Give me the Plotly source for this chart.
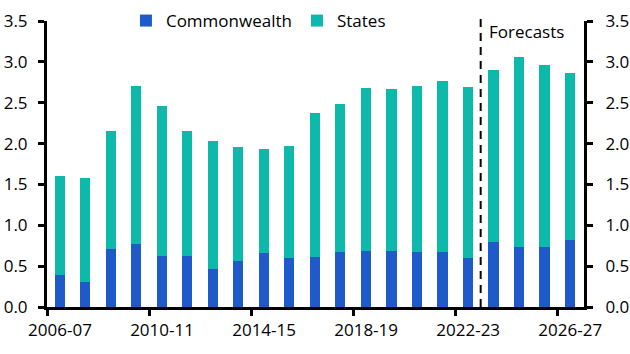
import plotly.graph_objects as go

years = ["2006-07", "2007-08", "2008-09", "2009-10", "2010-11", "2011-12", "2012-13",
         "2013-14", "2014-15", "2015-16", "2016-17", "2017-18", "2018-19", "2019-20",
         "2020-21", "2021-22", "2022-23", "2023-24", "2024-25", "2025-26", "2026-27"]
commonwealth = [0.39, 0.30, 0.71, 0.77, 0.63, 0.62, 0.47, 0.56, 0.66, 0.60, 0.61, 0.67,
                0.69, 0.68, 0.67, 0.67, 0.60, 0.80, 0.73, 0.74, 0.82]
total = [1.60, 1.58, 2.15, 2.71, 2.46, 2.15, 2.03, 1.96, 1.93, 1.97, 2.38, 2.49,
         2.68, 2.67, 2.70, 2.76, 2.69, 2.90, 3.06, 2.96, 2.86]
states = [round(t - c, 3) for t, c in zip(total, commonwealth)]

tick_labels = ["2006-07", "2010-11", "2014-15", "2018-19", "2022-23", "2026-27"]
forecast_start = "2023-24"

idx = list(range(len(years)))
tickvals = [years.index(t) - 0.5 for t in tick_labels]
fc = years.index(forecast_start) - 0.5

FONT = "Open Sans"
BLUE = "#1f5acb"
TEAL = "#0cb9ab"

fig = go.Figure()
fig.add_trace(go.Bar(x=idx, y=commonwealth, name="Commonwealth", marker_color=BLUE,
                     marker_line_width=0))
fig.add_trace(go.Bar(x=idx, y=states, name="States", marker_color=TEAL,
                     marker_line_width=0))
# invisible companion trace so the right-hand axis is drawn
fig.add_trace(go.Scatter(x=idx, y=total, yaxis="y2", mode="lines",
                         line=dict(width=0, color="rgba(0,0,0,0)"),
                         showlegend=False, hoverinfo="skip"))

axis_common = dict(showgrid=False, zeroline=False, showline=True, linecolor="black",
                   linewidth=3, ticks="outside", ticklen=6, tickwidth=2.5,
                   tickcolor="black", automargin=False,
                   tickfont=dict(family=FONT, size=17, color="black"))

fig.update_layout(
    barmode="stack", bargap=0.6,
    width=630, height=354,
    margin=dict(l=47, r=46, t=21, b=47, autoexpand=False),
    plot_bgcolor="white", paper_bgcolor="white",
    font=dict(family=FONT, size=17, color="black"),
    showlegend=True,
    legend=dict(orientation="h", x=0.147, y=1.0, xanchor="left", yanchor="middle",
                bgcolor="rgba(0,0,0,0)", font=dict(family=FONT, size=17),
                traceorder="normal"),
    xaxis=dict(range=[-0.5, 20.55], tickvals=tickvals, ticktext=tick_labels,
               ticklabelshift=13, **axis_common),
    yaxis=dict(range=[0, 3.5], dtick=0.5, tickformat=".1f", ticklabelstandoff=7,
               **axis_common),
    yaxis2=dict(range=[0, 3.5], dtick=0.5, tickformat=".1f", overlaying="y",
                side="right", ticklabelstandoff=9, **axis_common),
)

fig.add_shape(type="line", xref="x", yref="paper", x0=fc, x1=fc, y0=0, y1=1.01,
              line=dict(color="black", width=2, dash="8px,6px"))
fig.add_annotation(xref="x", yref="paper", x=fc, y=0.965, xanchor="left",
                   yanchor="middle", xshift=6, showarrow=False, text="Forecasts",
                   font=dict(family=FONT, size=17, color="black"))

fig.write_html("out.html")
